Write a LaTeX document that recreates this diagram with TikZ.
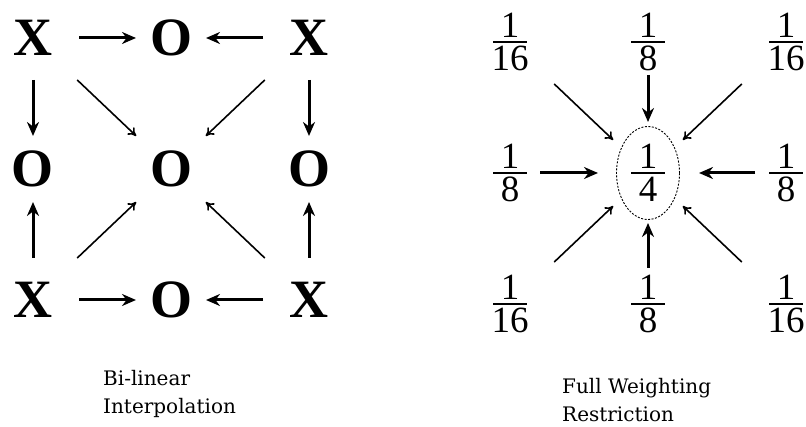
\documentclass[tikz,border=0pt]{standalone}
\usepackage{fontspec}
\setmainfont{Liberation Serif}
\newfontfamily\capfont{DejaVu Serif}
\usepackage{tikz}
\usetikzlibrary{arrows.meta,positioning,shapes.geometric}

% stacked weight with a fixed-width bar
\newcommand{\wfrac}[2]{\vbox{\offinterlineskip\halign{\hfil##\hfil\cr
  #1\cr\noalign{\kern3.5pt}\vrule width 34pt height 0.8pt depth 0.8pt\cr
  \noalign{\kern3.5pt}#2\cr}}}

\begin{document}
\begin{tikzpicture}[
  x=1pt, y=1pt,
  node distance=131pt and 138pt, on grid,
  grd/.style={font=\fontsize{54}{54}\selectfont\bfseries, inner sep=0pt},
  wt/.style={font=\fontsize{37}{37}\selectfont, inner sep=0pt},
  note/.style={font=\capfont\fontsize{20}{28}\selectfont, align=left, inner sep=0pt},
  arr/.style={-{Stealth[length=14pt,width=12pt]}, line width=3pt},
  darr/.style={-{To[length=8pt,width=10pt]}, line width=1.6pt,
               shorten <=61pt, shorten >=48pt}
]
  \useasboundingbox (0,0) rectangle (806,-427);

  % bi-linear interpolation
  \node[grd] (xtl) at (33,-38) {X};
  \node[grd, right=of xtl] (otop) {O};
  \node[grd, right=of otop] (xtr) {X};
  \node[grd, below=of xtl] (oleft) {O};
  \node[grd, right=of oleft] (omid) {O};
  \node[grd, right=of omid] (oright) {O};
  \node[grd, below=of oleft] (xbl) {X};
  \node[grd, right=of xbl] (obot) {O};
  \node[grd, right=of obot] (xbr) {X};
  \draw[arr, shorten <=46pt, shorten >=35pt] (xtl.center) -- (otop.center);
  \draw[arr, shorten <=46pt, shorten >=35pt] (xtr.center) -- (otop.center);
  \draw[arr, shorten <=46pt, shorten >=35pt] (xbl.center) -- (obot.center);
  \draw[arr, shorten <=46pt, shorten >=35pt] (xbr.center) -- (obot.center);
  \draw[arr, shorten <=42pt, shorten >=33pt] (xtl.center) -- (oleft.center);
  \draw[arr, shorten <=42pt, shorten >=33pt] (xbl.center) -- (oleft.center);
  \draw[arr, shorten <=42pt, shorten >=33pt] (xtr.center) -- (oright.center);
  \draw[arr, shorten <=42pt, shorten >=33pt] (xbr.center) -- (oright.center);
  \draw[darr] (xtl.center) -- (omid.center);
  \draw[darr] (xtr.center) -- (omid.center);
  \draw[darr] (xbl.center) -- (omid.center);
  \draw[darr] (xbr.center) -- (omid.center);

  % full weighting restriction
  \node[wt] (wtl) at (510,-42) {\wfrac{1}{16}};
  \node[wt, right=of wtl] (wtop) {\wfrac{1}{8}};
  \node[wt, right=of wtop] (wtr) {\wfrac{1}{16}};
  \node[wt, below=of wtl] (wleft) {\wfrac{1}{8}};
  \node[wt, right=of wleft, ellipse, draw, line width=0.9pt,
        dash pattern=on 2pt off 1.5pt, minimum width=63pt,
        minimum height=93pt] (wmid) {\wfrac{1}{4}};
  \node[wt, right=of wmid] (wright) {\wfrac{1}{8}};
  \node[wt, below=of wleft] (wbl) {\wfrac{1}{16}};
  \node[wt, right=of wbl] (wbot) {\wfrac{1}{8}};
  \node[wt, right=of wbot] (wbr) {\wfrac{1}{16}};
  \draw[arr, shorten <=30pt, shorten >=50pt] (wleft.center) -- (wmid.center);
  \draw[arr, shorten <=31pt, shorten >=51pt] (wright.center) -- (wmid.center);
  \draw[arr, shorten <=33pt, shorten >=51pt] (wtop.center) -- (wmid.center);
  \draw[arr, shorten <=36pt, shorten >=50pt] (wbot.center) -- (wmid.center);
  \draw[darr] (wtl.center) -- (wmid.center);
  \draw[darr] (wtr.center) -- (wmid.center);
  \draw[darr] (wbl.center) -- (wmid.center);
  \draw[darr] (wbr.center) -- (wmid.center);

  % captions
  \node[note, anchor=north west] (bil) at (103,-370) {Bi-linear\\Interpolation};
  \node[note, anchor=north west] (fwr) at (562,-378) {Full Weighting\\Restriction};
\end{tikzpicture}
\end{document}
